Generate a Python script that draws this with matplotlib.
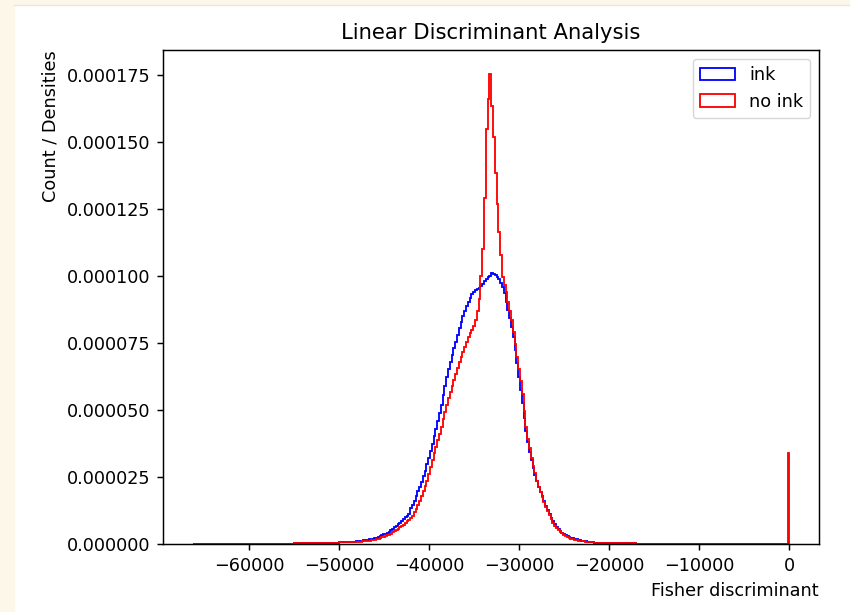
import numpy as np
import matplotlib.pyplot as plt
from matplotlib.patches import Rectangle

# bin edges of the Fisher discriminant histogram: coarse in the tails,
# 200 wide from -48100 to -20100
edges = np.concatenate([
    [-66250, -62000, -58000, -55000, -52000, -50000],
    np.arange(-48100, -20100, 200),
    [-20100, -17000, -14000, -10000, -5000, -150, 0],
])

# densities per bin, in units of 1e-5
ink_e5 = [
    # left tail
    0.004, 0.008, 0.015, 0.03, 0.055, 0.085,
    # -48000 .. -46200
    0.104, 0.112, 0.12, 0.128, 0.136, 0.146, 0.158, 0.17, 0.182, 0.194,
    # -46000 .. -44200
    0.21, 0.235, 0.26, 0.29, 0.32, 0.355, 0.39, 0.42, 0.46, 0.51,
    # -44000 .. -42200
    0.57, 0.62, 0.67, 0.73, 0.79, 0.86, 0.92, 0.99, 1.06, 1.13,
    # -42000 .. -40200
    1.35, 1.47, 1.62, 1.78, 1.96, 2.14, 2.32, 2.52, 2.74, 2.98,
    # -40000 .. -38200
    3.22, 3.48, 3.74, 4.02, 4.3, 4.6, 4.9, 5.2, 5.55, 5.9,
    # -38000 .. -36200
    6.25, 6.55, 6.8, 7.05, 7.3, 7.55, 7.8, 8.05, 8.3, 8.5,
    # -36000 .. -34200
    8.7, 8.9, 9.05, 9.2, 9.33, 9.42, 9.47, 9.5, 9.56, 9.63,
    # -34000 .. -32200
    9.72, 9.8, 9.88, 9.95, 10.02, 10.1, 10.08, 10.03, 9.98, 9.9,
    # -32000 .. -30200
    9.75, 9.6, 9.38, 9.05, 8.72, 8.42, 8.1, 7.72, 7.25, 6.75,
    # -30000 .. -28200
    6.25, 5.75, 5.25, 4.72, 4.22, 3.82, 3.45, 3.13, 2.85, 2.58,
    # -28000 .. -26200
    2.35, 2.12, 1.95, 1.8, 1.6, 1.43, 1.27, 1.12, 0.98, 0.85,
    # -26000 .. -24200
    0.74, 0.64, 0.55, 0.48, 0.42, 0.38, 0.34, 0.3, 0.265, 0.235,
    # -24000 .. -22200
    0.21, 0.19, 0.17, 0.155, 0.14, 0.125, 0.11, 0.1, 0.088, 0.075,
    # -22000 .. -20200
    0.066, 0.06, 0.055, 0.051, 0.046, 0.042, 0.038, 0.034, 0.031, 0.028,
    # right tail
    0.02, 0.012, 0.007, 0.004, 0.002, 0.0,
]

no_ink_e5 = [
    # left tail
    0.004, 0.008, 0.015, 0.028, 0.05, 0.072,
    # -48000 .. -46200
    0.08, 0.085, 0.09, 0.096, 0.103, 0.11, 0.118, 0.128, 0.138, 0.149,
    # -46000 .. -44200
    0.16, 0.178, 0.196, 0.22, 0.245, 0.27, 0.295, 0.32, 0.35, 0.385,
    # -44000 .. -42200
    0.43, 0.475, 0.52, 0.57, 0.62, 0.67, 0.72, 0.77, 0.84, 0.91,
    # -42000 .. -40200
    0.98, 1.06, 1.18, 1.32, 1.46, 1.62, 1.8, 1.98, 2.16, 2.36,
    # -40000 .. -38200
    2.62, 2.88, 3.13, 3.38, 3.62, 3.87, 4.12, 4.38, 4.66, 4.93,
    # -38000 .. -36200
    5.2, 5.45, 5.68, 5.91, 6.13, 6.35, 6.57, 6.78, 6.98, 7.18,
    # -36000 .. -34200
    7.36, 7.55, 7.74, 7.87, 7.98, 8.12, 8.35, 8.7, 9.15, 10.0,
    # -34000 .. -32200
    11.0, 12.9, 15.5, 16.6, 17.56, 16.35, 15.2, 13.85, 12.7, 11.65,
    # -32000 .. -30200
    10.8, 9.95, 9.65, 9.4, 9.05, 8.7, 8.35, 7.9, 7.45, 6.98,
    # -30000 .. -28200
    6.53, 6.1, 5.6, 4.98, 4.38, 3.92, 3.58, 3.22, 2.9, 2.65,
    # -28000 .. -26200
    2.35, 2.12, 1.93, 1.75, 1.56, 1.38, 1.22, 1.07, 0.93, 0.8,
    # -26000 .. -24200
    0.69, 0.6, 0.52, 0.45, 0.4, 0.35, 0.31, 0.27, 0.235, 0.205,
    # -24000 .. -22200
    0.18, 0.16, 0.145, 0.13, 0.12, 0.108, 0.097, 0.087, 0.078, 0.07,
    # -22000 .. -20200
    0.062, 0.056, 0.051, 0.046, 0.042, 0.038, 0.034, 0.031, 0.029, 0.027,
    # right tail, with the spike just below zero
    0.02, 0.012, 0.007, 0.004, 0.002, 3.38,
]

ink = np.array(ink_e5) * 1e-5
no_ink = np.array(no_ink_e5) * 1e-5

s = 1.32   # line scale
fs = 1.27  # font scale
plt.rcParams.update({
    'font.size': 10 * fs,
    'axes.titlesize': 12 * fs,
    'axes.linewidth': 0.8 * s,
    'xtick.major.size': 3.5 * s,
    'ytick.major.size': 3.5 * s,
    'xtick.major.width': 0.8 * s,
    'ytick.major.width': 0.8 * s,
    'xtick.major.pad': 3.5 * s,
    'ytick.major.pad': 3.5 * s,
    'axes.labelpad': 4 * s,
    'axes.titlepad': 6 * s,
})

fig = plt.figure(figsize=(8.5, 6.12), dpi=100)
fig.patches.append(Rectangle((0, 0), 14 / 850, 1, transform=fig.transFigure,
                             color='#fdf7ea', zorder=-1))
fig.patches.append(Rectangle((0, 1 - 4 / 612), 1, 4 / 612, transform=fig.transFigure,
                             color='#fdf7ea', zorder=-1))
fig.lines.append(plt.Line2D([14 / 850, 1], [1 - 4.5 / 612, 1 - 4.5 / 612],
                            transform=fig.transFigure, color='#ebe7df', lw=1))

ax = fig.add_axes([163 / 850, 1 - 544 / 612, 656 / 850, 494 / 612])

left = edges[:-1]
ax.hist(left, bins=edges, weights=ink, histtype='step', color='blue',
        linewidth=1.0 * s, label='ink')
ax.hist(left, bins=edges, weights=no_ink, histtype='step', color='red',
        linewidth=1.0 * s, label='no ink')

ax.set_title('Linear Discriminant Analysis')
ax.set_xlabel('Fisher discriminant', loc='right')
ax.set_ylabel('Count / Densities', loc='top')
ax.legend(loc='upper right')

fig.savefig('out.png', dpi=100)
